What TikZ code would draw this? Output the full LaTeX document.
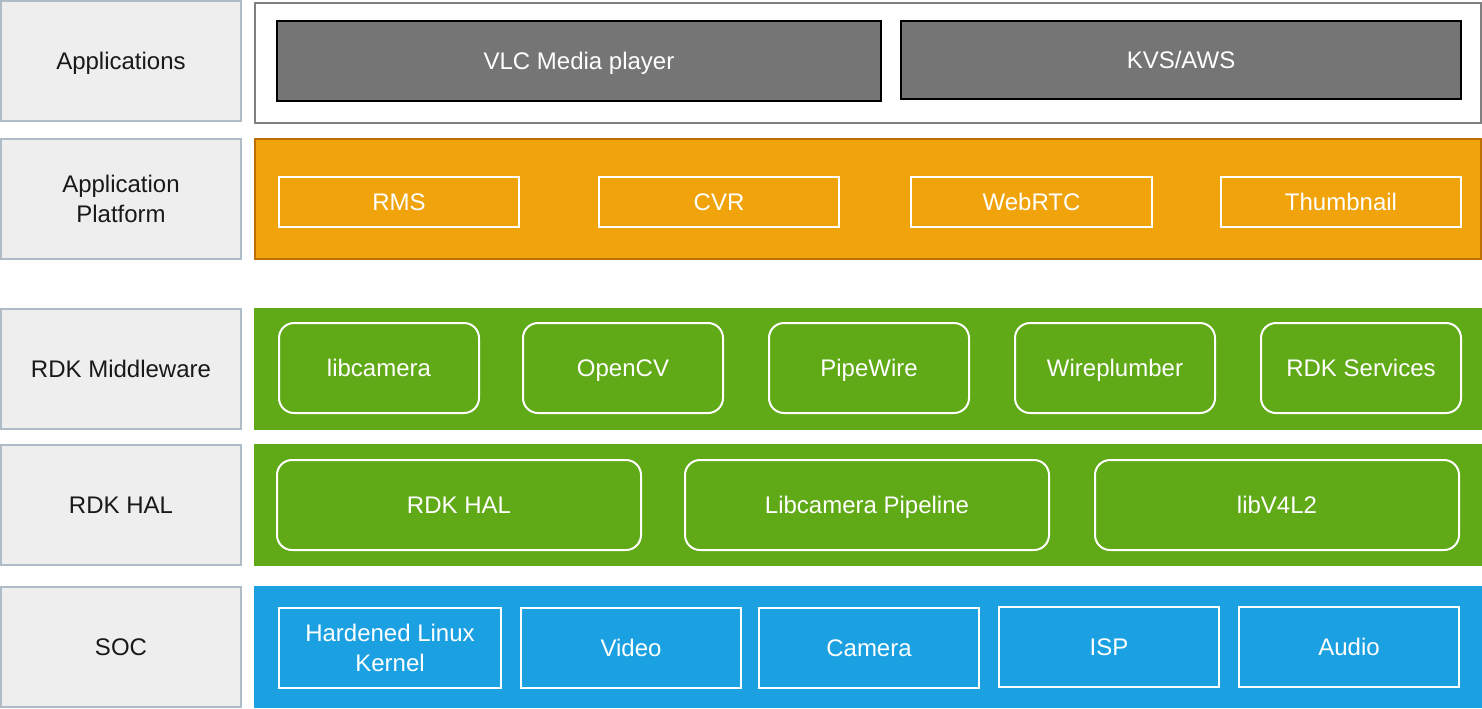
\documentclass[tikz,border=0pt]{standalone}
\usepackage{fontspec}
\setmainfont{Liberation Sans}
\usepackage{tikz}
\usetikzlibrary{positioning}

\definecolor{layergray}{HTML}{EEEEEE}
\definecolor{layerline}{HTML}{B0BBC8}
\definecolor{appgray}{HTML}{757575}
\definecolor{platorange}{HTML}{F0A30A}
\definecolor{platline}{HTML}{BD7000}
\definecolor{mwgreen}{HTML}{60A917}
\definecolor{socblue}{HTML}{1BA1E2}

\tikzset{
  every node/.style={font=\fontsize{12}{15}\selectfont, inner sep=0pt, align=center,
    text height=8.8pt, text depth=0pt},
  twolines/.style={text height=, text depth=},
  layer/.style={draw=layerline, fill=layergray, line width=1pt,
    minimum width=120pt, minimum height=60pt, text=black!90},
  panel/.style={line width=1pt, minimum width=613pt, minimum height=60pt},
  appbox/.style={draw=black, fill=appgray, line width=1pt, text=white},
  whitebox/.style={draw=white, line width=1pt, text=white},
  roundbox/.style={whitebox, rounded corners=7.5pt, minimum height=45pt}
}

\begin{document}
\begin{tikzpicture}[x=0.5pt, y=-0.5pt]
  \useasboundingbox (0,0) rectangle (1482,708);
  % layer names
  \node[layer] (apps) at (121,61) {Applications};
  \node[layer, twolines] (plat) at (121,199) {Application\\Platform};
  \node[layer] (mw) at (121,369) {RDK Middleware};
  \node[layer] (hal) at (121,505) {RDK HAL};
  \node[layer] (soc) at (121,647) {SOC};
  % layer panels
  \node[panel, draw=gray, fill=white] (appspanel) at (868,63) {};
  \node[panel, draw=platline, fill=platorange] (platpanel) at (868,199) {};
  \node[panel, draw=mwgreen, fill=mwgreen] (mwpanel) at (868,369) {};
  \node[panel, draw=mwgreen, fill=mwgreen] (halpanel) at (868,505) {};
  \node[panel, draw=socblue, fill=socblue] (socpanel) at (868,647) {};
  % applications
  \node[appbox, minimum width=302pt, minimum height=40pt] (vlc) at (579,61) {VLC Media player};
  \node[appbox, minimum width=280pt, minimum height=39pt] (kvs) at (1181,60) {KVS/AWS};
  % application platform
  \node[whitebox, minimum width=120pt, minimum height=25pt] (rms) at (399,202) {RMS};
  \node[whitebox, minimum width=120pt, minimum height=25pt] (cvr) at (719,202) {CVR};
  \node[whitebox, minimum width=120.5pt, minimum height=25pt] (webrtc) at (1031.5,202) {WebRTC};
  \node[whitebox, minimum width=120pt, minimum height=25pt] (thumb) at (1341,202) {Thumbnail};
  % middleware
  \node[roundbox, minimum width=100pt] (libcam) at (379,368) {libcamera};
  \node[roundbox, minimum width=100pt] (opencv) at (623,368) {OpenCV};
  \node[roundbox, minimum width=100pt] (pipewire) at (869,368) {PipeWire};
  \node[roundbox, minimum width=100pt] (wireplumber) at (1115,368) {Wireplumber};
  \node[roundbox, minimum width=100pt] (rdkserv) at (1361,368) {RDK Services};
  % hal
  \node[roundbox, minimum width=182pt] (rdkhal) at (459,505) {RDK HAL};
  \node[roundbox, minimum width=182pt] (campipe) at (867,505) {Libcamera Pipeline};
  \node[roundbox, minimum width=182pt] (libvfl) at (1277,505) {libV4L2};
  % soc
  \node[whitebox, twolines, minimum width=111pt, minimum height=40pt] (kernel) at (390,648) {Hardened Linux\\Kernel};
  \node[whitebox, minimum width=110pt, minimum height=40pt] (video) at (631,648) {Video};
  \node[whitebox, minimum width=110pt, minimum height=40pt] (camera) at (869,648) {Camera};
  \node[whitebox, minimum width=110pt, minimum height=40pt] (isp) at (1109,647) {ISP};
  \node[whitebox, minimum width=110pt, minimum height=40pt] (audio) at (1349,647) {Audio};
\end{tikzpicture}
\end{document}
